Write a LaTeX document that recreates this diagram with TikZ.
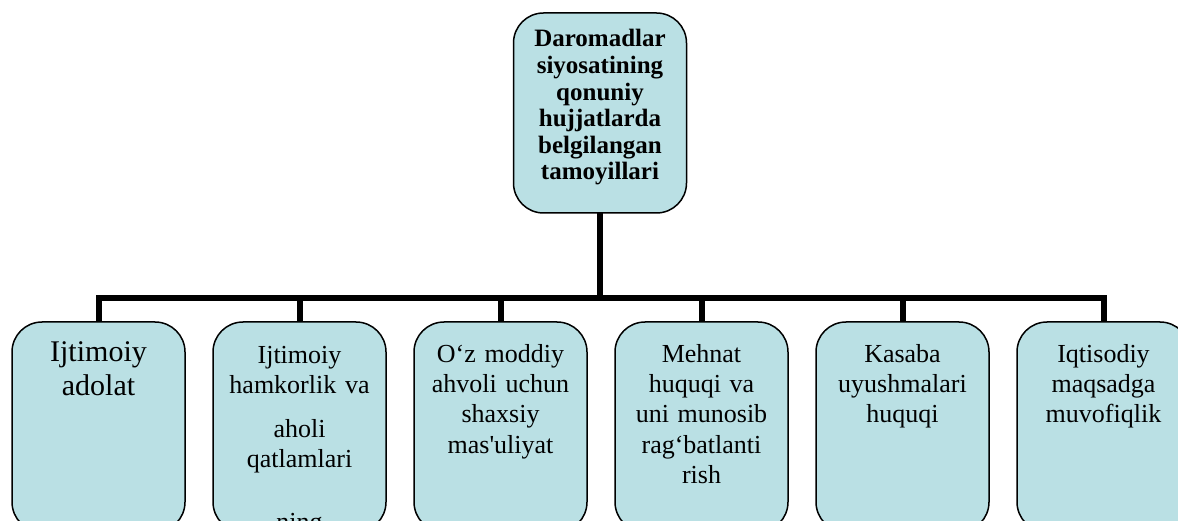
\documentclass[tikz,border=0pt]{standalone}
\usepackage{fontspec}
\setmainfont{Liberation Serif}[Ligatures=TeXOff]
\definecolor{boxfill}{RGB}{186,224,228}
\begin{document}
\begin{tikzpicture}[x=1pt,y=-1pt,
  box/.style={draw=black, line width=1.5pt, fill=boxfill, rounded corners=30pt, minimum width=173pt, inner sep=0pt, outer sep=0pt},
  topbox/.style={box, minimum height=200pt},
  leaf/.style={box, minimum height=210pt},
  conn/.style={line width=6pt, draw=black},
  toptext/.style={font=\fontsize{25}{26.6}\selectfont\bfseries, text width=170pt, align=center, anchor=base, inner sep=0pt},
  leaftext/.style={font=\fontsize{26}{30.5}\selectfont, text width=170pt, align=center, anchor=base, inner sep=0pt},
  bigtext/.style={leaftext, font=\fontsize{30}{34}\selectfont},
]
\useasboundingbox (0,0) rectangle (1178,521);
\clip (0,0) rectangle (1178,521);

\coordinate (hub) at (600,298);
\node[topbox] (top) at (600,113) {};
\foreach \i/\x in {1/98.5,2/299.5,3/500.5,4/701.5,5/902.5,6/1103.5}{
  \node[leaf] (leaf\i) at (\x,427) {};
}
\draw[conn] (top.south) -- (hub);
\foreach \i in {1,...,6}{
  \draw[conn] (hub) -| (leaf\i.north);
}

\node[toptext] (toplabel) at (600,47) {Daromadlar\\siyosatining\\qonuniy\\hujjatlarda\\belgilangan\\tamoyillari};
\node[bigtext] (t1) at (98.5,361) {Ijtimoiy\\adolat};
\node[leaftext] (t2) at (299.5,363) {Ijtimoiy\\hamkorlik va\\[13pt]aholi\\qatlamlari\\[32pt]ning};
\node[leaftext] (t3) at (500.5,362) {O‘z moddiy\\ahvoli uchun\\shaxsiy\\mas'uliyat};
\node[leaftext] (t4) at (701.5,362) {Mehnat\\huquqi va\\uni munosib\\rag‘batlanti\\rish};
\node[leaftext] (t5) at (902.5,362) {Kasaba\\uyushmalari\\huquqi};
\node[leaftext] (t6) at (1103.5,362) {Iqtisodiy\\maqsadga\\muvofiqlik};
\end{tikzpicture}
\end{document}
